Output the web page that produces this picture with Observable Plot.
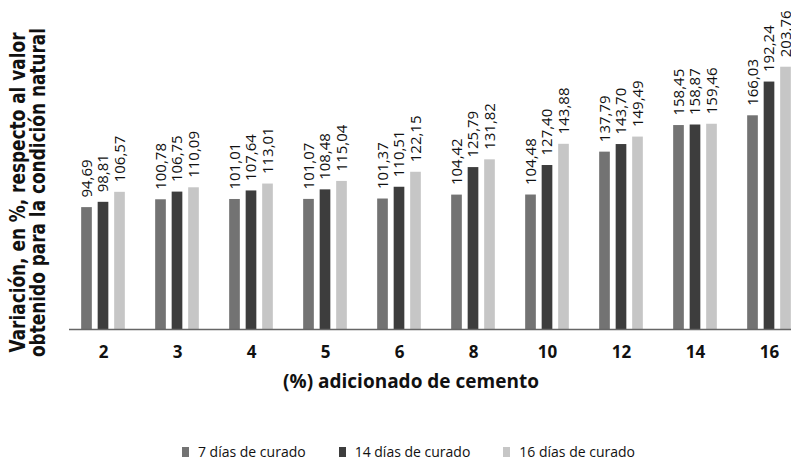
<!DOCTYPE html>
<html><head><meta charset="utf-8">
<script src="https://cdn.jsdelivr.net/npm/d3@7"></script>
<script src="https://cdn.jsdelivr.net/npm/@observablehq/plot@0.6"></script>
<style>
html,body{margin:0;padding:0;overflow:hidden;background:#fff;}
#wrap{position:relative;width:791px;height:460px;overflow:hidden;background:#fff;}
#chart{position:absolute;left:0;top:0;width:808px;}
#chart svg{max-width:none !important;}
#chart svg [aria-label="x-axis tick label"] text{font-family:"Open Sans",sans-serif;font-weight:bold;font-size:17px;fill:#111;}
#ytitle{position:absolute;left:-273px;top:172.5px;width:600px;height:39px;transform-origin:50% 50%;
  text-align:center;font-family:"DejaVu Sans",sans-serif;font-weight:bold;font-size:22px;line-height:19.5px;color:#111;white-space:nowrap;}
#xtitle{position:absolute;left:0;top:368px;width:822px;text-align:center;font-family:"Open Sans",sans-serif;font-weight:bold;font-size:19px;line-height:26px;color:#111;}
#legend{position:absolute;left:0;top:443px;width:817px;display:flex;justify-content:center;gap:33px;font-family:"Open Sans",sans-serif;font-size:14px;line-height:18px;color:#111;}
#legend .it{display:flex;align-items:center;gap:9px;}
#legend .sw{display:inline-block;width:7px;height:10px;}
</style></head><body>
<div id="wrap">
  <div id="chart"></div>
  <div id="ytitle"><span id="yl1">Variación, en %, respecto al valor</span><br><span id="yl2">obtenido para la condición natural</span></div>
  <div id="xtitle">(%) adicionado de cemento</div>
  <div id="legend"></div>
</div>
<script>
const groups = ["2","3","4","5","6","8","10","12","14","16"];
const seriesNames = ["7 días de curado","14 días de curado","16 días de curado"];
const dias7  = [94.69,100.78,101.01,101.07,101.37,104.42,104.48,137.79,158.45,166.03];
const dias14 = [98.81,106.75,107.64,108.48,110.51,125.79,127.40,143.70,158.87,192.24];
const dias16 = [106.57,110.09,113.01,115.04,122.15,131.82,143.88,149.49,159.46,203.76];
const colors = ["#737373","#3d3d3d","#c6c6c6"];

const seriesValues = [dias7, dias14, dias16];
const fmt = d3.formatLocale({decimal:",", thousands:".", grouping:[3], currency:["",""]}).format(".2f");
const rows = seriesValues.map((vals, s) => groups.map((g, i) => ({group: g, serie: seriesNames[s], value: vals[i]})));

const step = 74.33;
const barW = 11;
const inset = (step - barW) / 2;
const offsets = [-16.5, 0, 16.5];

const marks = [];
rows.forEach((data, s) => {
  marks.push(Plot.barY(data, {x: "group", y: "value", fill: colors[s], dx: offsets[s], insetLeft: inset, insetRight: inset}));
});
rows.forEach((data, s) => {
  marks.push(Plot.text(data, {x: "group", y: "value", text: d => fmt(d.value), rotate: -90, textAnchor: "start",
    dx: offsets[s], dy: -10, fontSize: 15, fontFamily: "Open Sans", fill: "#111"}));
});
marks.push(Plot.ruleY([0], {stroke: "#666", strokeWidth: 1.6, insetLeft: 4.5}));
marks.push(Plot.axisX({tickSize: 0, tickPadding: 16.5, label: null}));

const plot = Plot.plot({
  width: 808, height: 372,
  marginLeft: 64.5, marginRight: 0, marginTop: 0, marginBottom: 43,
  x: {domain: groups, padding: 0, label: null},
  y: {domain: [0, 255.6], axis: null},
  style: {background: "transparent", overflow: "visible"},
  marks
});
document.getElementById("chart").appendChild(plot);

// y title: squeeze along the text direction to the reference length
const cv = document.createElement("canvas").getContext("2d");
cv.font = "bold 22px 'DejaVu Sans'";
const w1 = cv.measureText(document.getElementById("yl1").textContent).width;
const k = 320 / w1;
document.getElementById("ytitle").style.transform = `rotate(-90deg) scaleX(${k})`;

const leg = document.getElementById("legend");
seriesNames.forEach((n, s) => {
  const it = document.createElement("div"); it.className = "it";
  const sw = document.createElement("span"); sw.className = "sw"; sw.style.background = colors[s];
  const tx = document.createElement("span"); tx.textContent = n;
  it.appendChild(sw); it.appendChild(tx); leg.appendChild(it);
});
</script>
</body></html>
